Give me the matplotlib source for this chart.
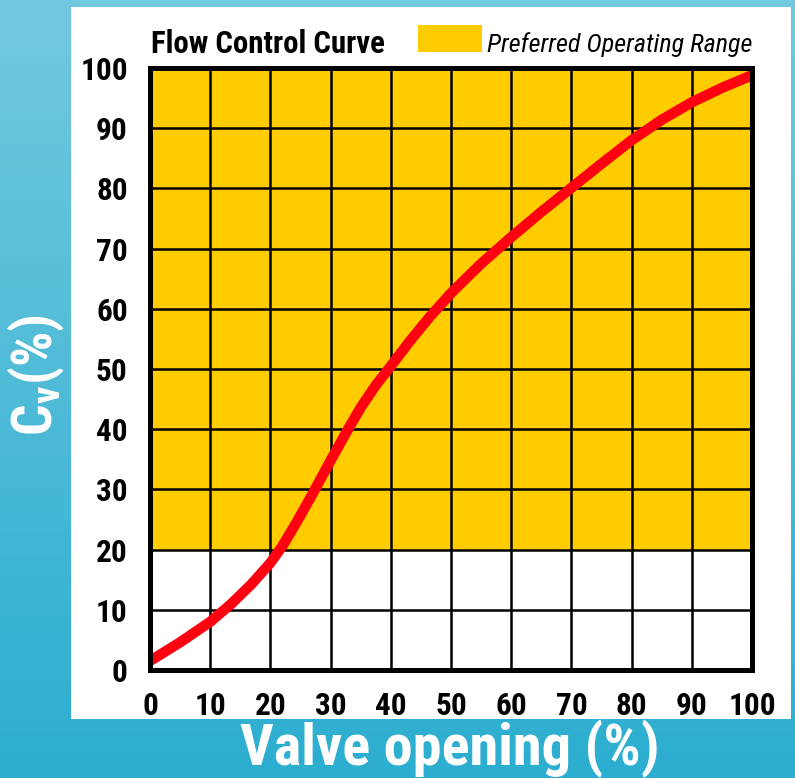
import numpy as np
import matplotlib
matplotlib.use("Agg")
import matplotlib.pyplot as plt
from matplotlib import patches
from matplotlib import font_manager

# valve opening (%) vs Cv (%)
opening = [0, 5, 10, 13.4, 16.8, 20, 22, 24.5, 26.8, 30, 32.9, 35, 37.5, 40, 43.3,
           46.5, 50, 55, 60, 65, 70, 75, 80, 85, 90, 95, 100]
cv = [1.5, 4.6, 8, 10.9, 14.2, 17.8, 20.6, 24.8, 28.9, 34.8, 40, 43.6, 47.3, 50.5, 54.8,
      58.7, 62.6, 67.5, 71.9, 76.1, 80.1, 84.1, 88, 91.4, 94.3, 96.7, 98.8]

preferred_range = (20, 100)
ticks = list(range(0, 101, 10))

names = {f.name for f in font_manager.fontManager.ttflist}
NARROW = "Roboto"
for cand in ["Liberation Sans Narrow", "Roboto Condensed", "Noto Sans Condensed",
             "Open Sans Condensed", "Noto Sans Display"]:
    if cand in names:
        NARROW = cand
        break
fam = [NARROW, "DejaVu Sans"]

plt.rcParams["mathtext.fontset"] = "custom"
plt.rcParams["mathtext.rm"] = NARROW + ":black"
plt.rcParams["mathtext.it"] = NARROW + ":black"
plt.rcParams["mathtext.bf"] = NARROW + ":black"

W, H = 795, 778
fig = plt.figure(figsize=(W / 100, H / 100), dpi=100)

# blue gradient background
bg = fig.add_axes([0, 0, 1, 1], zorder=-10)
top = np.array([0x72, 0xc9, 0xdf]) / 255
bot = np.array([0x2c, 0xae, 0xd0]) / 255
t = np.linspace(0, 1, 256)[:, None]
grad = (top[None, :] * (1 - t) + bot[None, :] * t)[:, None, :]
bg.imshow(grad, aspect="auto", extent=[0, 1, 0, 1])
bg.set_axis_off()

# white panel
bg.add_patch(patches.Rectangle((71 / W, 1 - 719 / H), 720 / W, 712 / H,
                               facecolor="white", edgecolor="none",
                               transform=fig.transFigure))

ax = fig.add_axes([150 / W, 1 - 670 / H, 602 / W, 602 / H])
ax.set_xlim(0, 100)
ax.set_ylim(0, 100)
ax.axhspan(*preferred_range, color="#FFCC00", zorder=0.2, lw=0)
ax.set_xticks(ticks)
ax.set_yticks(ticks)
ax.set_axisbelow(True)
ax.grid(True, color="black", lw=1.8)
ax.plot(opening, cv, color="#FF0010", lw=7.5, zorder=3,
        solid_capstyle="butt", solid_joinstyle="round")

for s in ax.spines.values():
    s.set_linewidth(3.6)
    s.set_zorder(4)
ax.tick_params(length=0, labelsize=22.5)
ax.tick_params(axis="x", pad=15)
ax.tick_params(axis="y", pad=16)
for lab in ax.get_xticklabels() + ax.get_yticklabels():
    lab.set_family(fam)
    lab.set_fontweight("black")
    lab.set_fontstretch("condensed")

# title and legend
fig.text(151 / W, 1 - 53 / H, "Flow Control Curve", family=fam,
         fontweight="black", fontstretch="condensed", fontsize=22.2, va="baseline")
bg.add_patch(patches.Rectangle((418 / W, 1 - 52 / H), 64 / W, 27 / H,
                               facecolor="#FFCC00", edgecolor="none",
                               transform=fig.transFigure))
fig.text(487 / W, 1 - 52 / H, "Preferred Operating Range", family=fam,
         style="italic", fontstretch="condensed", fontsize=18.8, va="baseline")

# axis labels
fig.text(36 / W, 1 - 375 / H, r"C$_\mathrm{v}$(%)", family=fam, fontweight="black",
         fontstretch="condensed", fontsize=40, color="white", rotation=90,
         ha="center", va="center")
fig.text(450 / W, 1 - 749 / H, "Valve opening (%)", family=fam, fontweight="black",
         fontstretch="condensed", fontsize=42, color="white", ha="center", va="center")

fig.savefig("out.png", dpi=100)
